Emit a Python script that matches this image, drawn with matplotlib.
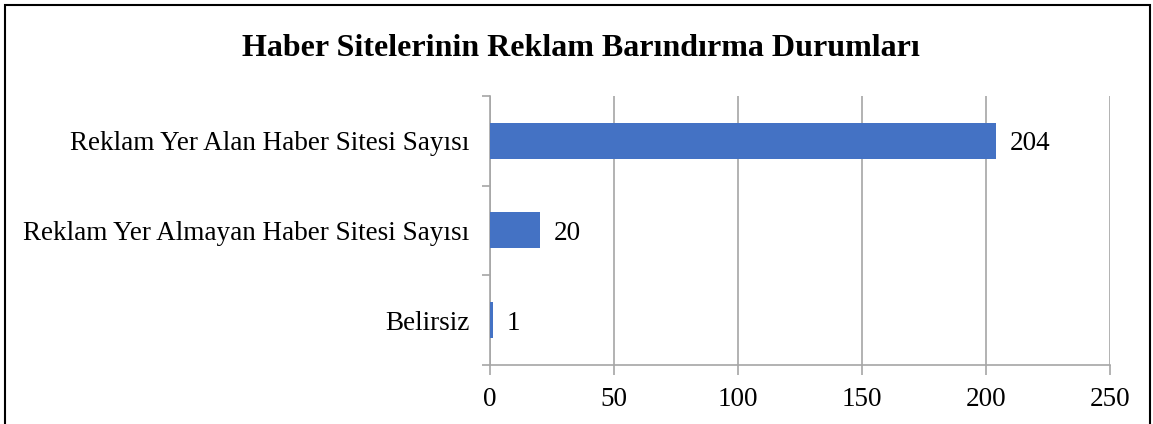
import numpy as np
import matplotlib
matplotlib.use('Agg')
import matplotlib.pyplot as plt
from matplotlib.patches import Rectangle

# data #
categories = ['Reklam Yer Alan Haber Sitesi Sayısı',
              'Reklam Yer Almayan Haber Sitesi Sayısı',
              'Belirsiz']
values = [204, 20, 1]
xticks = [0, 50, 100, 150, 200, 250]
title = 'Haber Sitelerinin Reklam Barındırma Durumları'

plt.rcParams['font.family'] = ['Liberation Serif', 'DejaVu Serif']
grey = '#A6A6A6'
fs = 19.5

fig = plt.figure(figsize=(11.53, 4.24), dpi=100)
ax = fig.add_axes([0.425, 0.139, 0.5377, 0.635])

y = np.arange(len(categories))
ax.barh(y, values, height=0.4, color='#4472C4', zorder=3)
for yi, v in zip(y, values):
    ax.annotate(str(v), (v, yi), xytext=(10, 0), textcoords='offset points',
                va='center_baseline', ha='left', fontsize=fs)

ax.set_ylim(len(categories) - 0.5, -0.5)
ax.set_xlim(0, 250)
ax.set_xticks(xticks)
ax.set_xticklabels([str(t) for t in xticks], fontsize=fs)
ax.set_yticks(y)
ax.set_yticklabels(categories, fontsize=fs, va='center_baseline')
ax.set_yticks(np.arange(len(categories) + 1) - 0.5, minor=True)
ax.tick_params(axis='y', which='major', length=0, pad=15)
ax.tick_params(axis='y', which='minor', length=6, color=grey, width=1.2)
ax.tick_params(axis='x', length=7, color=grey, width=1.2, pad=9)
ax.grid(axis='x', color=grey, linewidth=1.2, zorder=0)
for s in ['top', 'right']:
    ax.spines[s].set_visible(False)
for s in ['left', 'bottom']:
    ax.spines[s].set_color(grey)
    ax.spines[s].set_linewidth(1.2)

fig.text(0.504, 0.885, title, ha='center', va='center', fontsize=23, fontweight='bold')

# frame around the whole chart
fig.patches.append(Rectangle((5 / 1153, -0.05), 1145 / 1153, 1.05 - 5 / 424,
                             transform=fig.transFigure, fill=False,
                             edgecolor='black', linewidth=1.5))

fig.savefig('out.png', dpi=100)
